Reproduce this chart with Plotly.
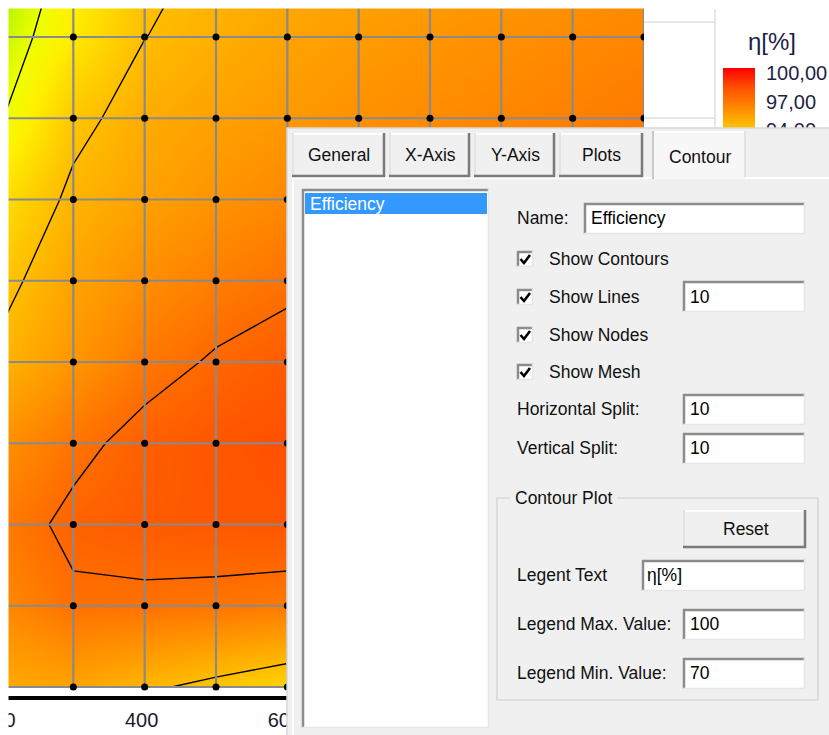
import plotly.graph_objects as go

# ---------------- data ----------------
x_nodes = [200, 300, 400, 500, 600, 700, 800, 900, 1000, 1100]
y_nodes = [90, 80, 70, 60, 50, 40, 30, 20, 10, 0]          # top -> bottom

eta_y90 = [89.07, 91.6, 93.6, 94.2, 94.5, 94.8, 95.0, 95.2, 95.4, 95.6]
eta_y80 = [90.08, 92.2, 93.98, 94.5, 94.9, 95.2, 95.45, 95.65, 95.85, 96.05]
eta_y70 = [90.94, 93.6, 94.6, 95.0, 95.3, 95.6, 95.8, 96.0, 96.2, 96.4]
eta_y60 = [92.68, 94.31, 95.0, 95.5, 95.9, 96.2, 96.4, 96.6, 96.7, 96.8]
eta_y50 = [93.62, 94.9, 95.7, 96.3, 96.7, 97.05, 97.2, 97.3, 97.4, 97.4]
eta_y40 = [94.33, 95.4, 96.5, 97.15, 97.6, 97.9, 98.0, 98.0, 97.9, 97.8]
eta_y30 = [95.6, 96.64, 97.44, 97.8, 98.0, 98.2, 98.3, 98.2, 98.0, 97.8]
eta_y20 = [96.38, 97.32, 97.6, 97.7, 97.8, 97.9, 97.9, 97.8, 97.6, 97.4]
eta_y10 = [95.9, 96.76, 96.72, 96.61, 96.40, 96.3, 96.4, 96.4, 96.3, 96.2]
eta_y0 = [94.7, 94.9, 94.22, 93.64, 93.02, 93.0, 93.4, 93.8, 94.0, 94.1]

x_tick_vals = [200, 400, 600, 800, 1000]
x_tick_text = ["200", "400", "600", "800", "1000"]

legend_text = "η[%]"
legend_max = 100
legend_min = 70
n_lines = 10
cb_tick_vals = [70, 73, 76, 79, 82, 85, 88, 91, 94, 97, 100]
cb_tick_text = ["70,00", "73,00", "76,00", "79,00", "82,00", "85,00",
                "88,00", "91,00", "94,00", "97,00", "100,00"]

tab_names = ["General", "X-Axis", "Y-Axis", "Plots", "Contour"]
series_names = ["Efficiency"]

# ---------------- geometry helpers ----------------
W, H = 829, 735
L, T, R, B = 2, 0, 0, 39
PW, PH = W - L - R, H - T - B
MAIN_RIGHT = 644


def px(x):
    return (x - L) / PW


def py(y):
    return 1 - (y - T) / PH


z_rows = [eta_y90, eta_y80, eta_y70, eta_y60, eta_y50,
          eta_y40, eta_y30, eta_y20, eta_y10, eta_y0]
z = z_rows[::-1]
y_asc = y_nodes[::-1]

colorscale = [
    [0.0, "#0000ff"],
    [0.2, "#00c0ff"],
    [0.4, "#00ff40"],
    [0.5333, "#50ff00"],
    [0.6333, "#90f000"],
    [0.6667, "#c0f500"],
    [0.7, "#eeff00"],
    [0.7333, "#fff000"],
    [0.8, "#ffbc00"],
    [0.8667, "#ff8600"],
    [0.9, "#ff6a00"],
    [0.9333, "#ff5000"],
    [1.0, "#ff0000"],
]

fig = go.Figure()

fig.add_trace(go.Contour(
    x=x_nodes, y=y_asc, z=z,
    zmin=legend_min, zmax=legend_max, zauto=False,
    colorscale=colorscale, showscale=False,
    contours=dict(start=legend_min, end=legend_max,
                  size=(legend_max - legend_min) / n_lines,
                  coloring="heatmap", showlines=True),
    line=dict(color="black", width=1.4, smoothing=0),
    hoverinfo="skip",
))

# mesh
mx, my = [], []
for xv in x_nodes:
    mx += [xv, xv, None]
    my += [max(y_nodes), min(y_nodes), None]
for yv in y_nodes:
    mx += [min(x_nodes), max(x_nodes), None]
    my += [yv, yv, None]
fig.add_trace(go.Scatter(x=mx, y=my, mode="lines",
                         line=dict(color="#8a8a8a", width=2.2),
                         hoverinfo="skip", showlegend=False))

nx, ny = [], []
for yv in y_nodes:
    for xv in x_nodes:
        nx.append(xv)
        ny.append(yv)
fig.add_trace(go.Scatter(x=nx, y=ny, mode="markers",
                         marker=dict(color="black", size=7),
                         hoverinfo="skip", showlegend=False))

# colour legend bar
fig.add_trace(go.Heatmap(
    x=[0, 1], y=[legend_min, legend_max],
    z=[[legend_min, legend_min], [legend_max, legend_max]],
    zmin=legend_min, zmax=legend_max, colorscale=colorscale,
    zsmooth="best", showscale=False, xaxis="x2", yaxis="y2",
    hoverinfo="skip",
))

# ---------------- layout ----------------
y_per_px = 10 / 81.25
y_top = 80 + 37 * y_per_px
y_bot = 0 - (696 - 687) * y_per_px

fig.update_layout(
    width=W, height=H,
    margin=dict(l=L, r=R, t=T, b=B, pad=0, autoexpand=False),
    paper_bgcolor="white", plot_bgcolor="white",
    showlegend=False,
    xaxis=dict(domain=[0, px(MAIN_RIGHT)], range=[200, 1100],
               automargin=False, ticklabeloverflow="allow",
               showgrid=False, zeroline=False,
               showline=True, linecolor="black", linewidth=4,
               tickvals=x_tick_vals, ticktext=x_tick_text,
               ticks="", ticklabelshift=-3, ticklabelstandoff=3,
               tickfont=dict(family="Liberation Sans", size=20, color="#1a1a2e")),
    yaxis=dict(domain=[0, 1], range=[y_bot, y_top], automargin=False,
               showgrid=False, zeroline=False, showline=False,
               showticklabels=False, ticks=""),
    xaxis2=dict(domain=[px(723), px(755)], range=[0, 1], anchor="y2",
                automargin=False,
                showgrid=False, zeroline=False, showticklabels=False,
                showline=False),
    yaxis2=dict(domain=[py(68 + 285), py(68)], range=[legend_min, legend_max],
                anchor="x2", side="right", showgrid=False, zeroline=False,
                automargin=False, ticklabeloverflow="allow",
                showline=False, ticks="",
                tickvals=cb_tick_vals, ticktext=cb_tick_text,
                ticklabelstandoff=10, ticklabelshift=5,
                tickfont=dict(family="Liberation Sans", size=20, color="#1e1e46")),
)

shapes = []


def rect(x0, y0, x1, y1, fill, line_color=None, lw=0):
    shapes.append(dict(type="rect", xref="paper", yref="paper",
                       x0=px(x0), x1=px(x1), y0=py(y1), y1=py(y0),
                       fillcolor=fill, layer="above",
                       line=dict(width=lw, color=line_color or fill)))


def hline(x0, x1, y, color, w=1):
    shapes.append(dict(type="line", xref="paper", yref="paper",
                       x0=px(x0), x1=px(x1), y0=py(y), y1=py(y),
                       layer="above", line=dict(color=color, width=w)))


def vline(x, y0, y1, color, w=1):
    shapes.append(dict(type="line", xref="paper", yref="paper",
                       x0=px(x), x1=px(x), y0=py(y0), y1=py(y1),
                       layer="above", line=dict(color=color, width=w)))


def raised(x0, y0, x1, y1, fill="#f0f0f0", bottom=True):
    rect(x0, y0, x1, y1, fill)
    hline(x0, x1, y0 + 1, "#ffffff", 2)
    vline(x0 + 1, y0, y1, "#e3e3e3", 2)
    vline(x1 - 1, y0, y1, "#7a7a7a", 2.5)
    if bottom:
        hline(x0, x1, y1 - 1, "#7a7a7a", 2.5)


def sunken(x0, y0, x1, y1):
    rect(x0, y0, x1, y1, "#ffffff")
    hline(x0, x1, y0 + 1, "#8c8c8c", 2.5)
    vline(x0 + 1, y0, y1, "#8c8c8c", 2.5)
    hline(x0, x1, y1 - 0.5, "#e6e6e6", 1.5)
    vline(x1 - 0.5, y0, y1, "#e6e6e6", 1.5)


# crop borders (white)
rect(0, 0, 8.5, 740, "white")
rect(0, 0, W, 8.5, "white")
# faint frame lines right of the plot
hline(MAIN_RIGHT, 715, 22, "#d0d0d0", 1)
hline(MAIN_RIGHT, 715, 118, "#d0d0d0", 1)
vline(715, 9, 128, "#d0d0d0", 1)

# dialog
rect(287, 128, 840, 745, "#f0f0f0", "#d8d8d8", 1.5)
# tab page
rect(292, 177, 840, 745, "#f0f0f0")
hline(292, 840, 178, "#ffffff", 2)
vline(293, 177, 745, "#ffffff", 2)

tab_boxes = [(292, 385), (389, 470), (474, 555), (559, 643)]
for (a, b) in tab_boxes:
    raised(a, 133, b, 177)
# selected tab
rect(652, 131, 745, 179, "#f7f7f7")
hline(652, 745, 132, "#ffffff", 2)
vline(653, 131, 179, "#c8c8c8", 2)
vline(745, 131, 177, "#dcdcdc", 1.5)

# list box
sunken(302, 189, 489, 728)
rect(305, 193, 487, 214, "#3399ff")

# text boxes
sunken(584, 203, 805, 234)
sunken(683, 281, 805, 312)
sunken(683, 394, 805, 425)
sunken(683, 433, 805, 464)
sunken(642, 560, 805, 591)
sunken(683, 609, 805, 640)
sunken(683, 658, 805, 689)

# check boxes
for cy in [259, 297, 335, 372]:
    sunken(517, cy - 8, 533, cy + 8)
    shapes.append(dict(type="path", xref="paper", yref="paper", layer="above",
                       path="M %f,%f L %f,%f L %f,%f" % (
                           px(520.5), py(cy), px(524), py(cy + 4),
                           px(530), py(cy - 4)),
                       line=dict(color="black", width=2.6)))

# group box
rect(497, 498, 818, 700, "rgba(0,0,0,0)", "#d0d0d0", 1.2)
rect(510, 488, 617, 508, "#f0f0f0")
# reset button
raised(683, 510, 806, 548)

fig.update_layout(shapes=shapes)

# ---------------- texts ----------------
ann = []
DF = "Liberation Sans"


def text(x, y, s, size=17.5, color="#111111", anchor="left", family=DF):
    ann.append(dict(x=px(x), y=py(y), xref="paper", yref="paper", text=s,
                    showarrow=False, xanchor=anchor, yanchor="middle",
                    font=dict(family=family, size=size, color=color)))


text(772, 42, legend_text, size=24, color="#1e1e46", anchor="center")

tab_centers = [(339, 155), (430, 155), (515, 155), (601, 155), (700, 157)]
for name, (cx, cy) in zip(tab_names, tab_centers):
    text(cx, cy, name, anchor="center")

text(308, 204, series_names[0], color="#ffffff")
text(515, 218, "Name:")
text(589, 218, series_names[0], color="#000000")
text(547, 259, "Show Contours")
text(547, 297, "Show Lines")
text(688, 297, str(n_lines), color="#000000")
text(547, 335, "Show Nodes")
text(547, 372, "Show Mesh")
text(515, 409, "Horizontal Split:")
text(688, 409, "10", color="#000000")
text(515, 448, "Vertical Split:")
text(688, 448, "10", color="#000000")
text(513, 498, "Contour Plot")
text(746, 529, "Reset", anchor="center")
text(515, 575, "Legent Text")
text(645, 575, legend_text, color="#000000")
text(515, 624, "Legend Max. Value:")
text(688, 624, str(legend_max), color="#000000")
text(515, 673, "Legend Min. Value:")
text(688, 673, str(legend_min), color="#000000")

fig.update_layout(annotations=ann)

fig.write_html(
    "out.html",
    config={"displayModeBar": False},
    post_script="document.body.style.margin='0px';"
                "document.documentElement.style.overflow='hidden';",
)
